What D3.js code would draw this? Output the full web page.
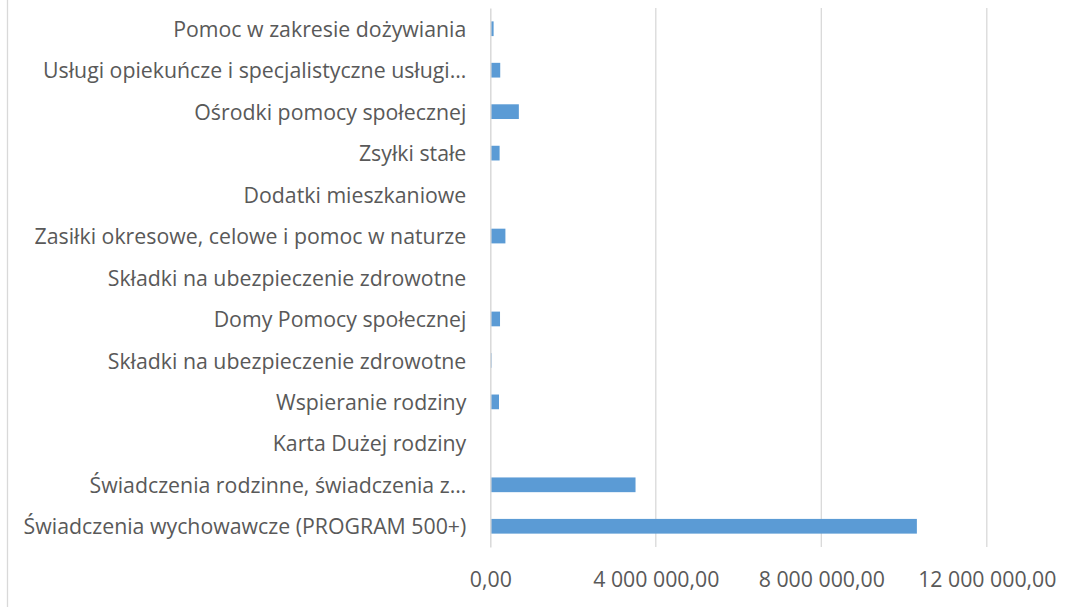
<!DOCTYPE html>
<html>
<head>
<meta charset="utf-8">
<script src="https://d3js.org/d3.v7.min.js"></script>
<style>
    body { margin: 0; background: #fff; }
    text { font-family: 'Open Sans', sans-serif; fill: #595959; }
</style>
</head>
<body>
<script>
    // categories, top to bottom as drawn
    var categories = [
        'Pomoc w zakresie dożywiania',
        'Usługi opiekuńcze i specjalistyczne usługi…',
        'Ośrodki pomocy społecznej',
        'Zsyłki stałe',
        'Dodatki mieszkaniowe',
        'Zasiłki okresowe, celowe i pomoc w naturze',
        'Składki na ubezpieczenie zdrowotne',
        'Domy Pomocy społecznej',
        'Składki na ubezpieczenie zdrowotne',
        'Wspieranie rodziny',
        'Karta Dużej rodziny',
        'Świadczenia rodzinne, świadczenia z…',
        'Świadczenia wychowawcze (PROGRAM 500+)'
    ];
    var values = [80000, 240000, 690000, 225000, 0, 365000, 0, 235000, 30000, 210000, 0, 3510000, 10310000];
    var xTicks = [0, 4000000, 8000000, 12000000];

    var width = 1073, height = 607;
    var plot = { left: 490.3, right: 986.8, top: 8, bottom: 547 };

    var pl = d3.formatLocale({ decimal: ',', thousands: ' ', grouping: [3], currency: ['', ' zł'] });
    var fmt = pl.format(',.2f');

    var svg = d3.select('body').append('svg')
        .attr('width', width)
        .attr('height', height);

    // chart area border (only left edge inside the picture)
    svg.append('rect')
        .attr('x', 7.5).attr('y', -10)
        .attr('width', width + 20).attr('height', height + 20)
        .attr('fill', 'none')
        .attr('stroke', '#d9d9d9')
        .attr('stroke-width', 1.3);

    var x = d3.scaleLinear()
        .domain([0, 12000000])
        .range([plot.left, plot.right]);

    var y = d3.scaleBand()
        .domain(d3.range(categories.length))
        .range([plot.top, plot.bottom])
        .paddingInner(0.645)
        .paddingOuter(0.3225);

    // gridlines
    svg.append('g')
        .selectAll('line')
        .data(xTicks.slice(1))
        .enter().append('line')
        .attr('x1', d => x(d)).attr('x2', d => x(d))
        .attr('y1', plot.top).attr('y2', plot.bottom)
        .attr('stroke', '#d9d9d9')
        .attr('stroke-width', 1.3);

    // bars
    svg.append('g')
        .selectAll('rect')
        .data(values)
        .enter().append('rect')
        .attr('x', x(0))
        .attr('y', (d, i) => y(i))
        .attr('width', d => x(d) - x(0))
        .attr('height', y.bandwidth())
        .attr('fill', '#5b9bd5');

    // category axis
    var yAxis = d3.axisLeft(y)
        .tickSize(0)
        .tickPadding(24)
        .tickFormat(i => categories[i]);
    var gy = svg.append('g')
        .attr('transform', 'translate(' + x(0) + ',0)')
        .call(yAxis);
    gy.select('.domain')
        .attr('stroke', '#d9d9d9')
        .attr('stroke-width', 1.5);
    gy.selectAll('text')
        .attr('font-size', '21.3px')
        .attr('dy', '0.38em')
        .style('font-family', null);

    // value axis labels
    var xAxis = d3.axisBottom(x)
        .tickValues(xTicks)
        .tickSize(0)
        .tickPadding(0)
        .tickFormat(fmt);
    var gx = svg.append('g')
        .attr('transform', 'translate(0,' + plot.bottom + ')')
        .call(xAxis);
    gx.select('.domain').remove();
    gx.selectAll('text')
        .attr('y', 40)
        .attr('dy', 0)
        .attr('font-size', '21.3px')
        .style('font-family', null);
    svg.selectAll('.tick text').attr('fill', '#595959');
</script>
</body>
</html>
